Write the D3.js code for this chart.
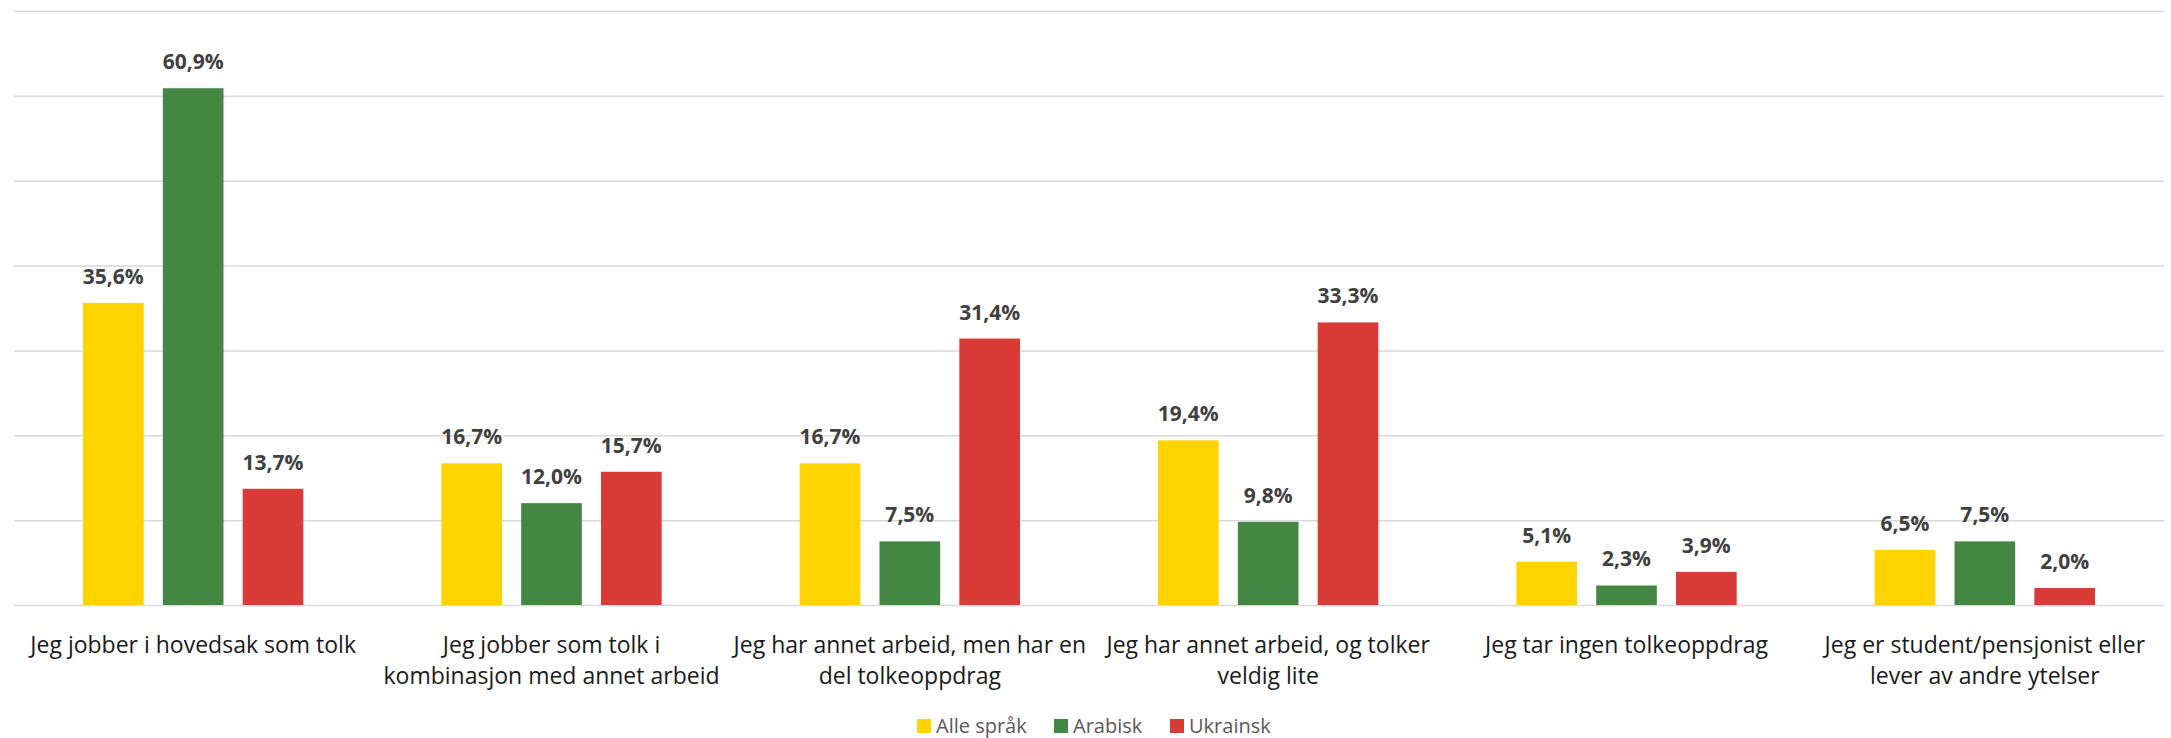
<!DOCTYPE html>
<html>
<head>
<meta charset="utf-8">
<title>Tolk</title>
<style>
body { margin: 0; background: #fff; font-family: "Open Sans", Arial, sans-serif; }
.grid line { stroke: #d9d9d9; stroke-width: 1.5px; }
.grid path { display: none; }
.grid text { display: none; }
.val { font-weight: bold; fill: #404040; font-size: 21px; }
.cat { fill: #1a1a1a; font-size: 23px; }
.leg { fill: #595959; font-size: 20px; }
</style>
<script src="https://cdn.jsdelivr.net/npm/d3@7"></script>
</head>
<body>
<script>
// data
var categories = [
  "Jeg jobber i hovedsak som tolk",
  "Jeg jobber som tolk i\nkombinasjon med annet arbeid",
  "Jeg har annet arbeid, men har en\ndel tolkeoppdrag",
  "Jeg har annet arbeid, og tolker\nveldig lite",
  "Jeg tar ingen tolkeoppdrag",
  "Jeg er student/pensjonist eller\nlever av andre ytelser"
];
var seriesNames = ["Alle språk", "Arabisk", "Ukrainsk"];
var alleSprak = [35.6, 16.7, 16.7, 19.4, 5.1, 6.5];
var arabisk   = [60.9, 12.0, 7.5, 9.8, 2.3, 7.5];
var ukrainsk  = [13.7, 15.7, 31.4, 33.3, 3.9, 2.0];
var gridTicks = [0, 10, 20, 30, 40, 50, 60, 70];
var colors = ["#FFD400", "#438742", "#D93B37"];

var width = 2171, height = 738;
var plotLeft = 14, plotRight = 2164, plotTop = 11, plotBottom = 605;

var svg = d3.select("body").append("svg")
    .attr("width", width)
    .attr("height", height);

var x0 = d3.scaleBand()
    .domain(categories)
    .range([plotLeft, plotRight]);

var x1 = d3.scaleBand()
    .domain(seriesNames)
    .range([69, x0.bandwidth() - 69])
    .paddingInner(0.24);

var y = d3.scaleLinear()
    .domain([0, 70])
    .range([plotBottom, plotTop]);

var color = d3.scaleOrdinal().domain(seriesNames).range(colors);

// gridlines
svg.append("g")
    .attr("class", "grid")
    .attr("transform", "translate(" + plotLeft + ",0)")
    .call(d3.axisLeft(y).tickValues(gridTicks).tickSize(-(plotRight - plotLeft)).tickFormat(""));

var rows = categories.map(function(c, i) {
  return {
    cat: c,
    vals: [
      { s: seriesNames[0], v: alleSprak[i] },
      { s: seriesNames[1], v: arabisk[i] },
      { s: seriesNames[2], v: ukrainsk[i] }
    ]
  };
});

var groups = svg.selectAll(".grp")
    .data(rows)
    .enter().append("g")
    .attr("class", "grp")
    .attr("transform", function(d) { return "translate(" + x0(d.cat) + ",0)"; });

groups.selectAll("rect")
    .data(function(d) { return d.vals; })
    .enter().append("rect")
    .attr("x", function(d) { return x1(d.s); })
    .attr("width", x1.bandwidth())
    .attr("y", function(d) { return y(d.v); })
    .attr("height", function(d) { return y(0) - y(d.v); })
    .attr("fill", function(d) { return color(d.s); });

groups.selectAll(".val")
    .data(function(d) { return d.vals; })
    .enter().append("text")
    .attr("class", "val")
    .attr("text-anchor", "middle")
    .attr("x", function(d) { return x1(d.s) + x1.bandwidth() / 2; })
    .attr("y", function(d) { return y(d.v) - 19; })
    .text(function(d) { return d.v.toFixed(1).replace(".", ",") + "%"; });

// category labels
var cats = svg.selectAll(".cat")
    .data(categories)
    .enter().append("text")
    .attr("class", "cat")
    .attr("text-anchor", "middle")
    .attr("x", function(d) { return x0(d) + x0.bandwidth() / 2; })
    .attr("y", 653);

cats.selectAll("tspan")
    .data(function(d) { return d.split("\n"); })
    .enter().append("tspan")
    .attr("x", function() { var p = d3.select(this.parentNode).datum(); return x0(p) + x0.bandwidth() / 2; })
    .attr("dy", function(d, i) { return i ? 31 : 0; })
    .text(function(d) { return d; });

// legend
var legX = [917, 1054, 1170];
var leg = svg.selectAll(".legItem")
    .data(seriesNames)
    .enter().append("g")
    .attr("class", "legItem")
    .attr("transform", function(d, i) { return "translate(" + legX[i] + ",719)"; });

leg.append("rect")
    .attr("width", 14)
    .attr("height", 14)
    .attr("fill", function(d) { return color(d); });

leg.append("text")
    .attr("class", "leg")
    .attr("x", 19)
    .attr("y", 14)
    .text(function(d) { return d; });
</script>
</body>
</html>
